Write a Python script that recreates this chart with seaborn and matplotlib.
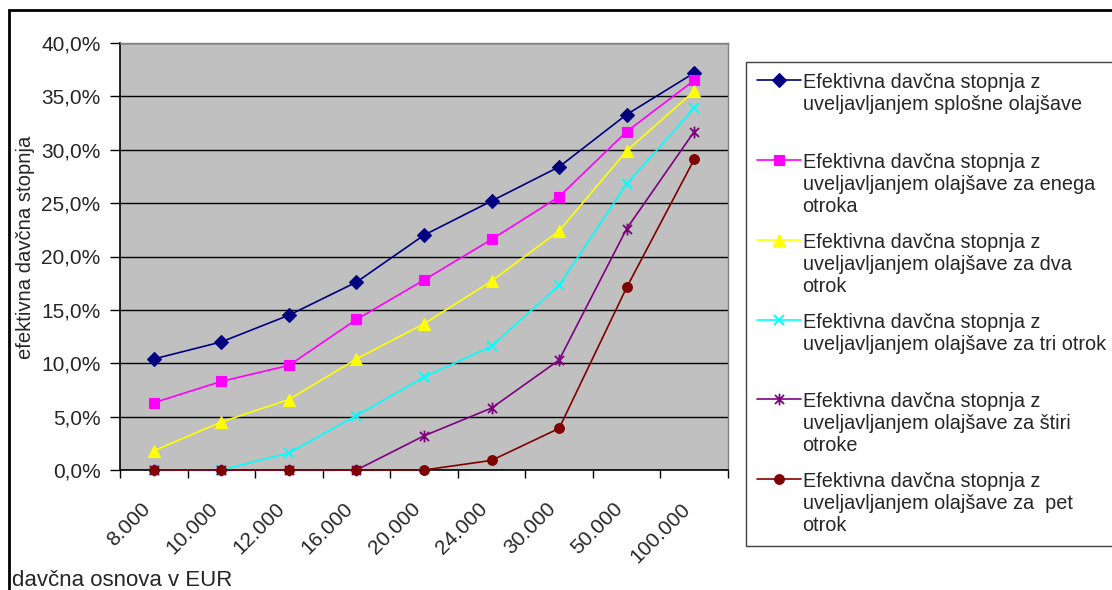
import matplotlib
matplotlib.use("Agg")
import matplotlib.pyplot as plt
from matplotlib.patches import Rectangle
from matplotlib.path import Path
from matplotlib.ticker import FuncFormatter, FixedLocator
import seaborn as sns

# Tax base categories (EUR)
categories = ["8.000", "10.000", "12.000", "16.000", "20.000",
              "24.000", "30.000", "50.000", "100.000"]

# Effective tax rate (%) per relief scenario
splosna = [10.4, 12.0, 14.5, 17.6, 22.0, 25.2, 28.4, 33.3, 37.2]
en_otrok = [6.3, 8.3, 9.8, 14.1, 17.8, 21.6, 25.6, 31.7, 36.5]
dva_otroka = [1.8, 4.5, 6.6, 10.4, 13.7, 17.7, 22.4, 29.9, 35.5]
trije_otroci = [0.0, 0.0, 1.6, 5.1, 8.7, 11.6, 17.3, 26.8, 33.9]
stirje_otroci = [0.0, 0.0, 0.0, 0.0, 3.2, 5.8, 10.3, 22.6, 31.7]
pet_otrok = [0.0, 0.0, 0.0, 0.0, 0.0, 0.9, 3.9, 17.1, 29.1]

labels = [
    "Efektivna davčna stopnja z\nuveljavljanjem splošne olajšave\n",
    "Efektivna davčna stopnja z\nuveljavljanjem olajšave za enega\notroka",
    "Efektivna davčna stopnja z\nuveljavljanjem olajšave za dva\notrok",
    "Efektivna davčna stopnja z\nuveljavljanjem olajšave za tri otrok\n",
    "Efektivna davčna stopnja z\nuveljavljanjem olajšave za štiri\notroke",
    "Efektivna davčna stopnja z\nuveljavljanjem olajšave za  pet\notrok",
]

# asterisk marker: an "x" crossed by a vertical stroke
star = Path([(-1, -1), (1, 1), (-1, 1), (1, -1), (0, -1.3), (0, 1.3)],
            [Path.MOVETO, Path.LINETO, Path.MOVETO, Path.LINETO,
             Path.MOVETO, Path.LINETO])

series = [splosna, en_otrok, dva_otroka, trije_otroci, stirje_otroci, pet_otrok]
colors = ["#000080", "#FF00FF", "#FFFF00", "#00FFFF", "#800080", "#800000"]
markers = ["D", "s", "^", "x", star, "o"]
msizes = [7, 7, 8.5, 7.5, 8.5, 7]
medges = [0.8, 0.8, 0.8, 1.4, 1.3, 0.8]

sns.set_theme(style="white")
plt.rcParams["font.family"] = ["Liberation Sans", "DejaVu Sans"]

fig = plt.figure(figsize=(11.12, 5.90), dpi=100)
ax = fig.add_axes([120 / 1112, 1 - 470 / 590, 608 / 1112, 427 / 590])
ax.set_facecolor("#C0C0C0")

for vals, col, mk, ms, mew, lab in zip(series, colors, markers, msizes, medges, labels):
    sns.lineplot(x=categories, y=vals, ax=ax, color=col, marker=mk,
                 markersize=ms, markeredgecolor=col, markerfacecolor=col,
                 markeredgewidth=mew, linewidth=1.2, sort=False,
                 errorbar=None, label=lab, legend=False, clip_on=False,
                 zorder=3)

ax.set_xlim(-0.5, len(categories) - 0.5)
ax.set_ylim(0, 40)
ax.yaxis.set_major_locator(FixedLocator(list(range(0, 41, 5))))
ax.yaxis.set_major_formatter(FuncFormatter(lambda v, p: f"{v:.1f}%".replace(".", ",")))
ax.yaxis.grid(True, color="black", linewidth=1)
ax.xaxis.grid(False)
ax.set_axisbelow(True)

ax.set_xticks(range(len(categories)))
ax.set_xticklabels(categories, rotation=45, ha="right", va="top")
ax.xaxis.set_minor_locator(FixedLocator([i - 0.5 for i in range(len(categories) + 1)]))
ax.tick_params(axis="x", which="major", length=0, pad=21, labelsize=15)
ax.tick_params(axis="x", which="minor", length=6, width=1, color="black",
               direction="out", bottom=True)
ax.tick_params(axis="y", which="major", length=7, width=1, color="black",
               direction="out", left=True, pad=7, labelsize=15)

for side in ("left", "bottom"):
    ax.spines[side].set_color("black")
    ax.spines[side].set_linewidth(1.2)
for side in ("top", "right"):
    ax.spines[side].set_color("#808080")
    ax.spines[side].set_linewidth(1)

ax.set_ylabel("efektivna davčna stopnja", fontsize=14.6)
ax.yaxis.set_label_coords(-0.14, 0.522)
ax.set_xlabel("")
fig.text(12 / 1112, 1 - 586 / 590, "davčna osnova v EUR", fontsize=16,
         ha="left", va="baseline")

handles, hlabels = ax.get_legend_handles_labels()
leg = fig.legend(handles, hlabels, loc="upper left", mode="expand",
                 bbox_to_anchor=(746 / 1112, 1 - 62 / 590 - 0.01, 400 / 1112, 0.01),
                 bbox_transform=fig.transFigure, borderaxespad=0,
                 fancybox=False, framealpha=1, edgecolor="#404040",
                 fontsize=14.3, handlelength=2.2, handletextpad=0.1,
                 borderpad=0.55, labelspacing=0.85, numpoints=1)
leg.get_frame().set_linewidth(1)
# put each legend marker next to the first line of its label
for col in leg._legend_handle_box.get_children():
    for row in col.get_children():
        row.align = "top"

# chart-area frame
fig.add_artist(Rectangle((9 / 1112, -0.1), 1.2, (1 - 10 / 590) + 0.1,
                         transform=fig.transFigure, fill=False,
                         edgecolor="black", linewidth=2))

fig.savefig("out.png", dpi=100, facecolor="white")
